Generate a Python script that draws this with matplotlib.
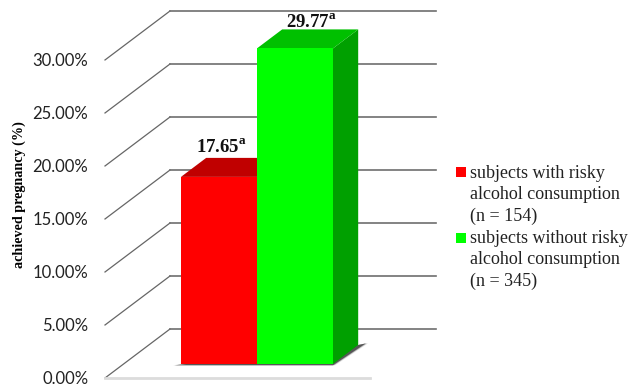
"""Pregnancy rate by alcohol consumption, drawn as an oblique 3D bar chart."""

import matplotlib
matplotlib.use("Agg")
import matplotlib.pyplot as plt
from matplotlib.patches import Rectangle

plt.rcParams["mathtext.fontset"] = "custom"
plt.rcParams["mathtext.rm"] = "Liberation Serif"
plt.rcParams["mathtext.bf"] = "Liberation Serif:bold"

GROUPS = ["subjects with risky\nalcohol consumption\n(n = 154)",
          "subjects without risky\nalcohol consumption\n(n = 345)"]
VALUES = [17.65, 29.77]
LETTERS = ["a", "a"]
TICKS = [0, 5, 10, 15, 20, 25, 30]

FRONT = ["#ff0000", "#00ff00"]
TOP = ["#c00000", "#00c000"]
SIDE = ["#a00000", "#00a000"]

# oblique projection: one unit of depth moves this far in x (bars) and y (percent)
DX, DY = 0.855, 4.62
NEAR, FAR = 0.286, 0.674   # bar front and back, as a share of the floor depth
W, H = 631, 391


def proj(x, v, d):
    return x + d * DX, v + d * DY


def face(ax, corners, color, z):
    pts = [proj(*c) for c in corners]
    ax.fill([p[0] for p in pts], [p[1] for p in pts], color=color, lw=0, zorder=z,
            clip_on=False)


fig = plt.figure(figsize=(W / 100, H / 100), dpi=100)
ax = fig.add_axes([105 / W, (H - 378) / H, 331 / W, 367 / H])
ax.set_xlim(-0.755, 3.6)
ax.set_ylim(0, 34.62)
for s in ax.spines.values():
    s.set_visible(False)
ax.set_xticks([])
ax.set_yticks(TICKS, [f"{t:.2f}%" for t in TICKS], fontsize=12, family="Lato",
              color="#222222")
ax.tick_params(axis="y", length=0, pad=12)
ax.set_ylabel("achieved pregnancy (%)", fontsize=10.2, fontweight="bold",
              family="Liberation Serif", labelpad=5, y=0.5)

# wall gridlines with their diagonals across the floor plane
for t in TICKS:
    x0, y0 = proj(-0.755, t, 0)
    x1, y1 = proj(-0.755, t, 1)
    ax.plot([x0, x1], [y0, y1], color="#666666", lw=0.9, zorder=1, clip_on=False)
    ax.plot([x1, 3.6], [y1, y1], color="#6e6e6e", lw=1.2, zorder=1, clip_on=False)
ax.plot([-0.755, 2.73], [0, 0], color="#dcdcdc", lw=2, zorder=1, clip_on=False)

# shadow on the floor
for grow, alpha in ((0.0, 0.9), (0.015, 0.35), (0.03, 0.15)):
    face(ax, [(-0.08 - grow, -0.12, NEAR), (2 + grow, -0.12, NEAR),
              (2.05 + grow, -0.12, FAR + 0.06), (2, 0, FAR)],
         (0.3, 0.3, 0.3, alpha), 2)

for i, v in enumerate(VALUES):
    face(ax, [(i + 1, 0, NEAR), (i + 1, 0, FAR), (i + 1, v, FAR), (i + 1, v, NEAR)], SIDE[i], 3)
    face(ax, [(i, v, NEAR), (i + 1, v, NEAR), (i + 1, v, FAR), (i, v, FAR)], TOP[i], 3)
for i, (v, off, dx) in enumerate(zip(VALUES, (3.67, 3.35), (0.27, 0.465))):
    face(ax, [(i, 0, NEAR), (i + 1, 0, NEAR), (i + 1, v, NEAR), (i, v, NEAR)], FRONT[i], 4)
    lx, _ = proj(i + 0.5 + dx, v, 0)
    ax.text(lx, v + off, f"$\\mathbf{{{v:.2f}}}^{{\\mathbf{{{LETTERS[i]}}}}}$",
            ha="center", va="baseline", fontsize=13.5, color="#111111", zorder=6,
            clip_on=False)

# legend entries, square level with the first text line
for color, label, square, top in zip(FRONT, GROUPS, (167, 233), (165, 230)):
    fig.patches.append(Rectangle((456 / W, (H - square - 10) / H), 10 / W, 10 / H,
                                 transform=fig.transFigure, facecolor=color, lw=0))
    fig.text(470 / W, (H - top) / H, label, ha="left", va="top", fontsize=13,
             family="Liberation Serif", color="#222222", linespacing=1.34)

fig.savefig("out.png", dpi=100)
